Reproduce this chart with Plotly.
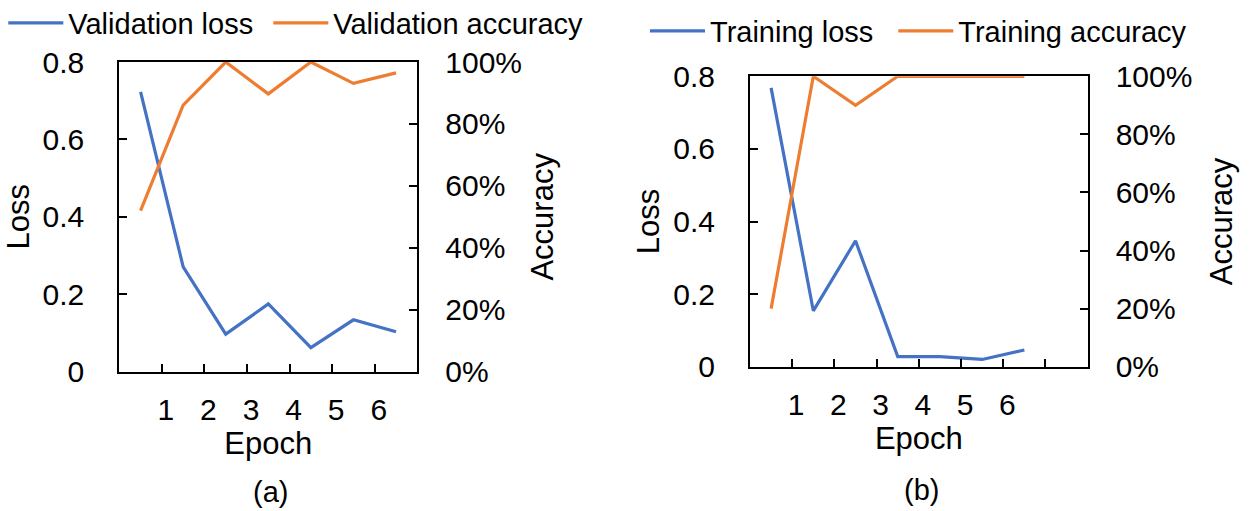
import plotly.graph_objects as go

# ---- data ----
epochs = [0.5, 1.5, 2.5, 3.5, 4.5, 5.5, 6.5]
tick_vals_a = [1, 2, 3, 4, 5, 6]
tick_text_a = ["1", "2", "3", "4", "5", "6"]
tick_vals_b = [1, 2, 3, 4, 5, 6, 7]
tick_text_b = ["1", "2", "3", "4", "5", "6", ""]

val_loss = [0.723, 0.271, 0.097, 0.175, 0.062, 0.134, 0.103]
val_acc = [0.52, 0.861, 1.0, 0.897, 1.0, 0.931, 0.965]
train_loss = [0.768, 0.154, 0.347, 0.028, 0.028, 0.020, 0.046]
train_acc = [0.20, 1.0, 0.90, 1.0, 1.0, 1.0, 1.0]

loss_ticks = [0, 0.2, 0.4, 0.6, 0.8]
loss_text = ["0", "0.2", "0.4", "0.6", "0.8"]
acc_ticks = [0, 0.2, 0.4, 0.6, 0.8, 1.0]

BLUE = "#4472C4"
ORANGE = "#ED7D31"
FONT = "Liberation Sans, Arial, sans-serif"
W, H = 1250, 511

fig = go.Figure()
fig.add_trace(go.Scatter(x=epochs, y=val_loss, name="Validation loss", mode="lines",
                         line=dict(color=BLUE, width=3.2), xaxis="x", yaxis="y", legend="legend"))
fig.add_trace(go.Scatter(x=epochs, y=val_acc, name="Validation accuracy", mode="lines",
                         line=dict(color=ORANGE, width=3.2), xaxis="x", yaxis="y2", legend="legend2"))
fig.add_trace(go.Scatter(x=epochs, y=train_loss, name="Training loss", mode="lines",
                         line=dict(color=BLUE, width=3.2), xaxis="x2", yaxis="y3", legend="legend3"))
fig.add_trace(go.Scatter(x=epochs, y=train_acc, name="Training accuracy", mode="lines",
                         line=dict(color=ORANGE, width=3.2), xaxis="x2", yaxis="y4", legend="legend4"))

tickfont = dict(family=FONT, size=30, color="black")
titlefont = dict(family=FONT, size=31, color="black")

def xax(domain, anchor, vals, text, xmax):
    return dict(domain=domain, anchor=anchor, range=[0, xmax],
                tickvals=vals, ticktext=text, ticks="inside", ticklen=8, tickwidth=2,
                tickcolor="black", showline=True, linecolor="black", linewidth=2,
                mirror=True, showgrid=False, zeroline=False, tickfont=tickfont,
                ticklabelstandoff=10, ticklabelshift=4, automargin=False,
                title=dict(text="Epoch", font=titlefont, standoff=0), fixedrange=True)

def yleft(domain, anchor):
    return dict(domain=domain, anchor=anchor, range=[0, 0.8], tickvals=loss_ticks,
                ticktext=loss_text,
                ticks="inside", ticklen=8, tickwidth=2, tickcolor="black",
                showline=True, linecolor="black", linewidth=2, mirror=True,
                showgrid=False, zeroline=False, tickfont=tickfont, ticklabelstandoff=27,
                automargin=False,
                title=dict(text="Loss", font=titlefont, standoff=4), fixedrange=True)

def yright(overlay, anchor, title_standoff):
    return dict(overlaying=overlay, anchor=anchor, side="right", range=[0, 1],
                tickvals=acc_ticks, tickformat=".0%",
                ticks="inside", ticklen=8, tickwidth=2, tickcolor="black",
                showline=True, linecolor="black", linewidth=2,
                showgrid=False, zeroline=False, tickfont=tickfont, ticklabelstandoff=20,
                automargin=False,
                title=dict(text="Accuracy", font=titlefont, standoff=title_standoff),
                fixedrange=True)

ya = [1 - 371.7 / H, 1 - 62 / H]
yb = [1 - 366.7 / H, 1 - 76.3 / H]
legfont = dict(family=FONT, size=29, color="black")

def leg(text_px, ypx):
    return dict(orientation="h", x=(text_px - 65) / W, y=1 - ypx / H, xanchor="left",
                yanchor="middle", font=legfont, bgcolor="rgba(0,0,0,0)", itemwidth=55)

fig.update_layout(
    width=W, height=H,
    margin=dict(l=0, r=0, t=0, b=0, autoexpand=False),
    paper_bgcolor="white", plot_bgcolor="white",
    font=dict(family=FONT, color="black"),
    xaxis=xax([119.3 / W, 417.3 / W], "y", tick_vals_a, tick_text_a, 7),
    yaxis=yleft(ya, "x"),
    yaxis2=yright("y", "x", 10),
    xaxis2=xax([750 / W, 1087.7 / W], "y3", tick_vals_b, tick_text_b, 8),
    yaxis3=yleft(yb, "x2"),
    yaxis4=yright("y3", "x2", 19),
    legend=leg(68.3, 23),
    legend2=leg(333.3, 23),
    legend3=leg(710, 31),
    legend4=leg(958.3, 31),
    showlegend=True,
    annotations=[
        dict(text="(a)", x=270 / W, y=1 - 492 / H, xref="paper", yref="paper",
             showarrow=False, font=legfont, xanchor="center", yanchor="middle"),
        dict(text="(b)", x=921 / W, y=1 - 490 / H, xref="paper", yref="paper",
             showarrow=False, font=legfont, xanchor="center", yanchor="middle"),
    ],
)

fig.write_html("out.html", config={"displayModeBar": False},
               post_script="document.body.style.margin='0';document.body.style.padding='0';")
